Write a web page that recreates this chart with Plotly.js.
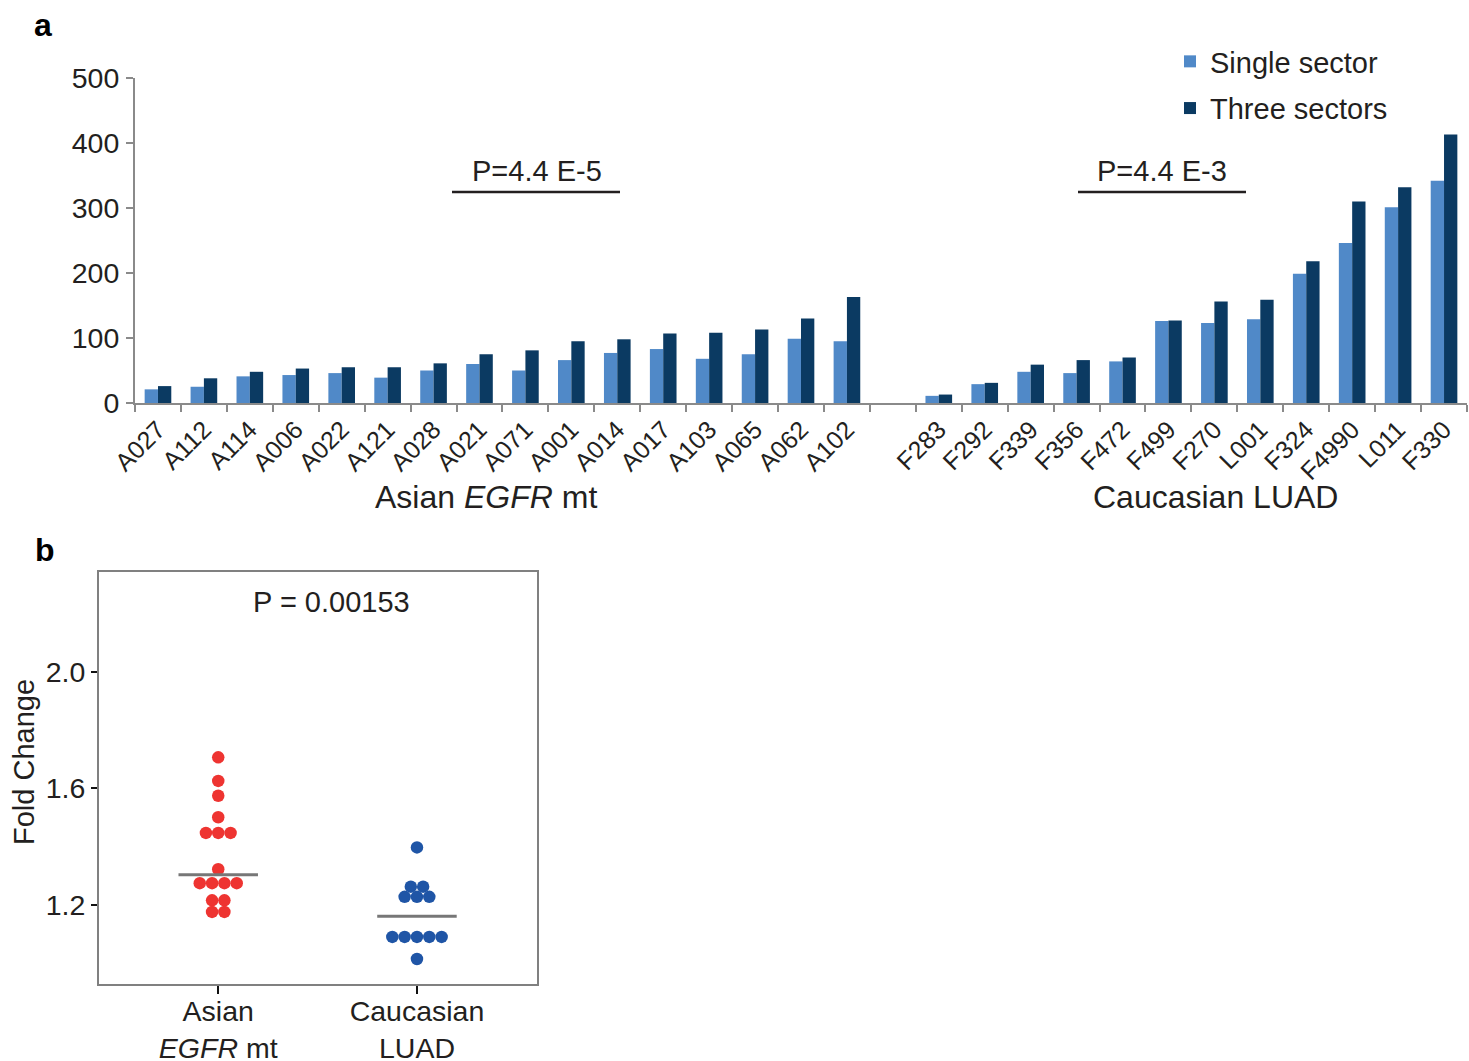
<!DOCTYPE html>
<html>
<head>
<meta charset="utf-8">
<script src="https://cdn.plot.ly/plotly-3.0.1.min.js"></script>
<style>html,body{margin:0;padding:0;background:#fff;}#chart{width:1469px;height:1061px;}</style>
</head>
<body>
<div id="chart"></div>
<script>
// ---------- Panel a data ----------
const asianSamples = ['A027','A112','A114','A006','A022','A121','A028','A021','A071','A001','A014','A017','A103','A065','A062','A102'];
const asianSingle  = [21, 25, 41, 43, 46, 39, 50, 60, 50, 66, 77, 83, 68, 75, 99, 95];
const asianThree   = [26, 38, 48, 53, 55, 55, 61, 75, 81, 95, 98, 107, 108, 113, 130, 163];

const caucSamples  = ['F283','F292','F339','F356','F472','F499','F270','L001','F324','F4990','L011','F330'];
const caucSingle   = [11, 29, 48, 46, 64, 126, 123, 129, 199, 246, 301, 342];
const caucThree    = [13, 31, 59, 66, 70, 127, 156, 159, 218, 310, 332, 413];

const seriesNames  = ['Single sector', 'Three sectors'];
const groupLabels  = ['Asian <i>EGFR</i> mt', 'Caucasian LUAD'];
const pLabelsA     = ['P=4.4 E-5', 'P=4.4 E-3'];
const yTicksA      = [0, 100, 200, 300, 400, 500];

// ---------- Panel b data ----------
const cohortNames  = ['Asian<br><i>EGFR</i> mt', 'Caucasian<br>LUAD'];
const foldAsian    = [1.707, 1.626, 1.575, 1.501, 1.447, 1.447, 1.447, 1.322, 1.274, 1.274, 1.274, 1.274, 1.215, 1.215, 1.175, 1.175];
const foldCauc     = [1.397, 1.262, 1.262, 1.227, 1.227, 1.227, 1.089, 1.089, 1.089, 1.089, 1.089, 1.013];
const foldMedians  = [1.303, 1.160];
const pLabelB      = 'P = 0.00153';
const yTitleB      = 'Fold Change';
const yTicksB      = [1.2, 1.6, 2.0];

// ---------- styles ----------
const FONT = 'Liberation Sans, Arial, Helvetica, sans-serif';
const TXT = '#231f20';
const AX = '#8a8a8a';
const C_SINGLE = '#5089c8';
const C_THREE = '#0b3a62';
const C_RED = '#ee3431';
const C_BLUE = '#1f55a6';

const GAP = ' ';
const xCats = [...asianSamples, GAP, ...caucSamples];

function beeswarm(values, center, step) {
  const counts = {}, seen = {};
  values.forEach(v => { counts[v] = (counts[v] || 0) + 1; });
  return values.map(v => {
    const i = seen[v] || 0; seen[v] = i + 1;
    return center + (i - (counts[v] - 1) / 2) * step;
  });
}

const traces = [
  {
    type: 'bar', name: seriesNames[0], legendgroup: 'g1',
    x: xCats, y: [...asianSingle, null, ...caucSingle],
    marker: {color: C_SINGLE, line: {width: 0}},
    xaxis: 'x', yaxis: 'y', hoverinfo: 'x+y'
  },
  {
    type: 'bar', name: seriesNames[1], legendgroup: 'g2',
    x: xCats, y: [...asianThree, null, ...caucThree],
    marker: {color: C_THREE, line: {width: 0}},
    xaxis: 'x', yaxis: 'y', hoverinfo: 'x+y'
  },
  {
    type: 'scatter', mode: 'markers', showlegend: false,
    x: beeswarm(foldAsian, 0, 0.062), y: foldAsian,
    marker: {color: C_RED, size: 12.5, line: {width: 0}},
    xaxis: 'x2', yaxis: 'y2'
  },
  {
    type: 'scatter', mode: 'markers', showlegend: false,
    x: beeswarm(foldCauc, 1, 0.062), y: foldCauc,
    marker: {color: C_BLUE, size: 12.5, line: {width: 0}},
    xaxis: 'x2', yaxis: 'y2'
  },
  {
    type: 'scatter', mode: 'lines', showlegend: false,
    x: [-0.2, 0.2], y: [foldMedians[0], foldMedians[0]],
    line: {color: '#777777', width: 3},
    xaxis: 'x2', yaxis: 'y2', hoverinfo: 'y'
  },
  {
    type: 'scatter', mode: 'lines', showlegend: false,
    x: [0.8, 1.2], y: [foldMedians[1], foldMedians[1]],
    line: {color: '#777777', width: 3},
    xaxis: 'x2', yaxis: 'y2', hoverinfo: 'y'
  }
];

const W = 1469, H = 1061;
const px = v => v / W;
const py = v => 1 - v / H;
const ann = (text, x, y, size, extra) => Object.assign({
  text, xref: 'paper', yref: 'paper', x: px(x), y: py(y),
  xanchor: 'center', yanchor: 'middle', showarrow: false,
  font: {size, color: TXT, family: FONT}
}, extra || {});

const layout = {
  width: W, height: H,
  margin: {l: 0, r: 0, t: 0, b: 0},
  paper_bgcolor: '#ffffff', plot_bgcolor: 'rgba(0,0,0,0)',
  font: {family: FONT, color: TXT, size: 28},
  barmode: 'group', bargap: 0.42, bargroupgap: 0,
  showlegend: true,
  legend: {
    x: px(1170), y: py(36), xanchor: 'left', yanchor: 'top',
    font: {size: 29, color: TXT, family: FONT},
    traceorder: 'grouped', tracegroupgap: 6,
    bgcolor: 'rgba(0,0,0,0)', itemwidth: 30
  },
  xaxis: {
    domain: [px(135), px(1467)], anchor: 'y',
    type: 'category', categoryorder: 'array', categoryarray: xCats,
    range: [-0.5, xCats.length - 0.5],
    tickson: 'boundaries', ticks: 'outside', ticklen: 7, tickwidth: 2, tickcolor: AX,
    showline: true, linecolor: AX, linewidth: 2,
    tickangle: -45, tickfont: {size: 25, color: TXT},
    showgrid: false, zeroline: false, automargin: false, fixedrange: true
  },
  yaxis: {
    domain: [py(403), py(78)], anchor: 'x',
    range: [0, 500], tickvals: yTicksA,
    ticks: 'outside', ticklen: 7, tickwidth: 2, tickcolor: AX,
    showline: true, linecolor: AX, linewidth: 2,
    tickfont: {size: 28.5, color: TXT}, ticklabelstandoff: 1,
    showgrid: false, zeroline: false, automargin: false, fixedrange: true
  },
  xaxis2: {
    domain: [px(99), px(537)], anchor: 'y2',
    range: [-0.6, 1.604], tickvals: [0, 1], ticktext: cohortNames,
    ticks: 'outside', ticklen: 8, tickwidth: 2, tickcolor: '#111111',
    showline: true, mirror: true, linecolor: '#808080', linewidth: 2,
    tickfont: {size: 28.5, color: TXT}, ticklabelstandoff: -7,
    showgrid: false, zeroline: false, automargin: false, fixedrange: true
  },
  yaxis2: {
    domain: [py(984), py(572)], anchor: 'x2',
    range: [0.927, 2.345], tickvals: yTicksB, ticktext: yTicksB.map(v => v.toFixed(1)),
    ticks: 'outside', ticklen: 6, tickwidth: 2, tickcolor: '#111111',
    showline: true, mirror: true, linecolor: '#808080', linewidth: 2,
    tickfont: {size: 28.5, color: TXT},
    showgrid: false, zeroline: false, automargin: false, fixedrange: true
  },
  shapes: [
    {type: 'line', xref: 'paper', yref: 'paper', x0: px(452), x1: px(620), y0: py(192), y1: py(192), line: {color: TXT, width: 2.5}},
    {type: 'line', xref: 'paper', yref: 'paper', x0: px(1078), x1: px(1246), y0: py(192), y1: py(192), line: {color: TXT, width: 2.5}}
  ],
  annotations: [
    ann('<b>a</b>', 43, 25, 32, {font: {size: 32, color: '#000', family: FONT}}),
    ann('<b>b</b>', 45, 550, 32, {font: {size: 32, color: '#000', family: FONT}}),
    ann(pLabelsA[0], 537, 171, 29),
    ann(pLabelsA[1], 1162, 171, 29),
    ann(groupLabels[0], 486, 497, 32),
    ann(groupLabels[1], 1215, 497, 32),
    ann(pLabelB, 331, 602, 29),
    ann(yTitleB, 24, 762, 29, {textangle: -90})
  ]
};

Plotly.newPlot('chart', traces, layout, {displayModeBar: false, staticPlot: true});
</script>
</body>
</html>
